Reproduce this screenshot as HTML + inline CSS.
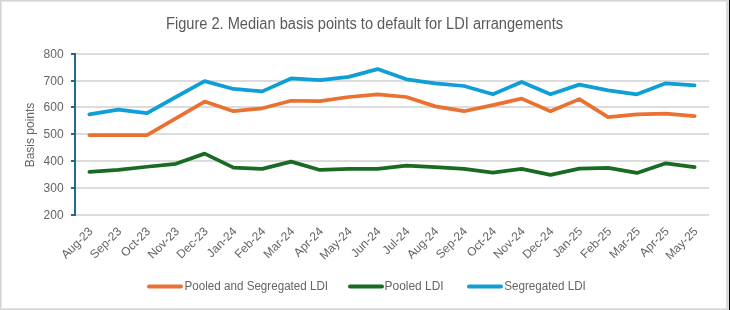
<!DOCTYPE html>
<html><head><meta charset="utf-8"><style>
html,body{margin:0;padding:0;background:#fff;}
body{width:730px;height:310px;overflow:hidden;position:relative;}
svg{position:absolute;left:0;top:0;will-change:transform;}
text{font-family:"Liberation Sans",sans-serif;fill:#646464;}
.lab{font-size:12px;}
.xl{font-size:12px;}
.title{font-size:16px;fill:#5a5a5a;}
.leg{font-size:12px;}
</style></head><body>
<svg width="730" height="310" viewBox="0 0 730 310">
<rect x="0" y="0" width="730" height="310" fill="#ffffff"/>
<rect x="0" y="0" width="729" height="1" fill="#d5d5d5"/>
<rect x="1" y="1" width="728" height="1" fill="#e3e3e3"/>
<rect x="0" y="0" width="1" height="310" fill="#d5d5d5"/>
<rect x="1" y="1" width="1" height="308" fill="#e3e3e3"/>
<rect x="2" y="308" width="724" height="1" fill="#e3e3e3"/>
<rect x="0" y="309" width="729" height="1" fill="#d5d5d5"/>
<rect x="726" y="1" width="1" height="308" fill="#dedede"/>
<rect x="727" y="0" width="1" height="310" fill="#d6d6d6"/>
<rect x="728" y="0" width="1" height="310" fill="#dddddd"/>
<rect x="729" y="0" width="1" height="310" fill="#000000"/>
<rect x="76" y="53" width="633" height="2" fill="#dcdcdc"/>
<rect x="76" y="80" width="633" height="2" fill="#dcdcdc"/>
<rect x="76" y="106" width="633" height="2" fill="#dcdcdc"/>
<rect x="76" y="133" width="633" height="2" fill="#dcdcdc"/>
<rect x="76" y="160" width="633" height="2" fill="#dcdcdc"/>
<rect x="76" y="187" width="633" height="2" fill="#dcdcdc"/>
<rect x="76" y="214" width="633" height="2" fill="#dcdcdc"/>
<rect x="74" y="53" width="2" height="163" fill="#226a8c"/>
<rect x="71" y="53" width="3" height="2" fill="#226a8c"/>
<rect x="71" y="80" width="3" height="2" fill="#226a8c"/>
<rect x="71" y="106" width="3" height="2" fill="#226a8c"/>
<rect x="71" y="133" width="3" height="2" fill="#226a8c"/>
<rect x="71" y="160" width="3" height="2" fill="#226a8c"/>
<rect x="71" y="187" width="3" height="2" fill="#226a8c"/>
<rect x="71" y="214" width="3" height="2" fill="#226a8c"/>
<text x="63.6" y="58.10" text-anchor="end" class="lab">800</text>
<text x="63.6" y="85.10" text-anchor="end" class="lab">700</text>
<text x="63.6" y="111.10" text-anchor="end" class="lab">600</text>
<text x="63.6" y="138.10" text-anchor="end" class="lab">500</text>
<text x="63.6" y="165.10" text-anchor="end" class="lab">400</text>
<text x="63.6" y="192.10" text-anchor="end" class="lab">300</text>
<text x="63.6" y="219.10" text-anchor="end" class="lab">200</text>
<text transform="translate(34.3,135) rotate(-90)" text-anchor="middle" class="lab">Basis points</text>
<text transform="translate(93.41,232) rotate(-45)" text-anchor="end" class="xl">Aug-23</text>
<text transform="translate(122.23,232) rotate(-45)" text-anchor="end" class="xl">Sep-23</text>
<text transform="translate(151.05,232) rotate(-45)" text-anchor="end" class="xl">Oct-23</text>
<text transform="translate(179.86,232) rotate(-45)" text-anchor="end" class="xl">Nov-23</text>
<text transform="translate(208.68,232) rotate(-45)" text-anchor="end" class="xl">Dec-23</text>
<text transform="translate(237.50,232) rotate(-45)" text-anchor="end" class="xl">Jan-24</text>
<text transform="translate(266.32,232) rotate(-45)" text-anchor="end" class="xl">Feb-24</text>
<text transform="translate(295.14,232) rotate(-45)" text-anchor="end" class="xl">Mar-24</text>
<text transform="translate(323.95,232) rotate(-45)" text-anchor="end" class="xl">Apr-24</text>
<text transform="translate(352.77,232) rotate(-45)" text-anchor="end" class="xl">May-24</text>
<text transform="translate(381.59,232) rotate(-45)" text-anchor="end" class="xl">Jun-24</text>
<text transform="translate(410.41,232) rotate(-45)" text-anchor="end" class="xl">Jul-24</text>
<text transform="translate(439.23,232) rotate(-45)" text-anchor="end" class="xl">Aug-24</text>
<text transform="translate(468.05,232) rotate(-45)" text-anchor="end" class="xl">Sep-24</text>
<text transform="translate(496.86,232) rotate(-45)" text-anchor="end" class="xl">Oct-24</text>
<text transform="translate(525.68,232) rotate(-45)" text-anchor="end" class="xl">Nov-24</text>
<text transform="translate(554.50,232) rotate(-45)" text-anchor="end" class="xl">Dec-24</text>
<text transform="translate(583.32,232) rotate(-45)" text-anchor="end" class="xl">Jan-25</text>
<text transform="translate(612.14,232) rotate(-45)" text-anchor="end" class="xl">Feb-25</text>
<text transform="translate(640.95,232) rotate(-45)" text-anchor="end" class="xl">Mar-25</text>
<text transform="translate(669.77,232) rotate(-45)" text-anchor="end" class="xl">Apr-25</text>
<text transform="translate(698.59,232) rotate(-45)" text-anchor="end" class="xl">May-25</text>
<polyline points="89.41,135.10 118.23,135.10 147.05,135.10 175.86,118.46 204.68,101.56 233.50,111.22 262.32,108.27 291.14,100.75 319.95,101.02 348.77,97.00 377.59,94.31 406.41,97.00 435.23,106.39 464.05,111.22 492.86,105.05 521.68,98.61 550.50,111.22 579.32,99.14 608.14,117.12 636.95,114.44 665.77,113.63 694.59,116.05" fill="none" stroke="#E97132" stroke-width="3.75" stroke-linejoin="round" stroke-linecap="round"/>
<polyline points="89.41,171.86 118.23,169.98 147.05,166.76 175.86,163.81 204.68,153.62 233.50,167.57 262.32,168.91 291.14,161.66 319.95,169.98 348.77,168.91 377.59,168.91 406.41,165.69 435.23,167.03 464.05,168.91 492.86,172.67 521.68,168.91 550.50,174.81 579.32,168.64 608.14,167.84 636.95,172.94 665.77,163.28 694.59,167.03" fill="none" stroke="#196B24" stroke-width="3.75" stroke-linejoin="round" stroke-linecap="round"/>
<polyline points="89.41,114.44 118.23,109.61 147.05,113.10 175.86,97.00 204.68,81.17 233.50,88.95 262.32,91.36 291.14,78.48 319.95,80.09 348.77,76.87 377.59,69.09 406.41,79.29 435.23,83.31 464.05,86.00 492.86,94.31 521.68,81.97 550.50,94.31 579.32,84.65 608.14,90.29 636.95,94.31 665.77,83.31 694.59,85.46" fill="none" stroke="#0F9ED5" stroke-width="3.75" stroke-linejoin="round" stroke-linecap="round"/>
<text x="166" y="28.8" textLength="397" lengthAdjust="spacingAndGlyphs" class="title">Figure 2. Median basis points to default for LDI arrangements</text>
<line x1="149" y1="286.4" x2="181" y2="286.4" stroke="#E97132" stroke-width="4" stroke-linecap="round"/><text x="184.6" y="289.8" textLength="143.5" lengthAdjust="spacingAndGlyphs" class="leg">Pooled and Segregated LDI</text>
<line x1="350" y1="286.4" x2="382" y2="286.4" stroke="#196B24" stroke-width="4" stroke-linecap="round"/><text x="384.6" y="289.8" textLength="59" lengthAdjust="spacingAndGlyphs" class="leg">Pooled LDI</text>
<line x1="469" y1="286.4" x2="501" y2="286.4" stroke="#0F9ED5" stroke-width="4" stroke-linecap="round"/><text x="504.2" y="289.8" textLength="81.6" lengthAdjust="spacingAndGlyphs" class="leg">Segregated LDI</text>
</svg>
</body></html>
